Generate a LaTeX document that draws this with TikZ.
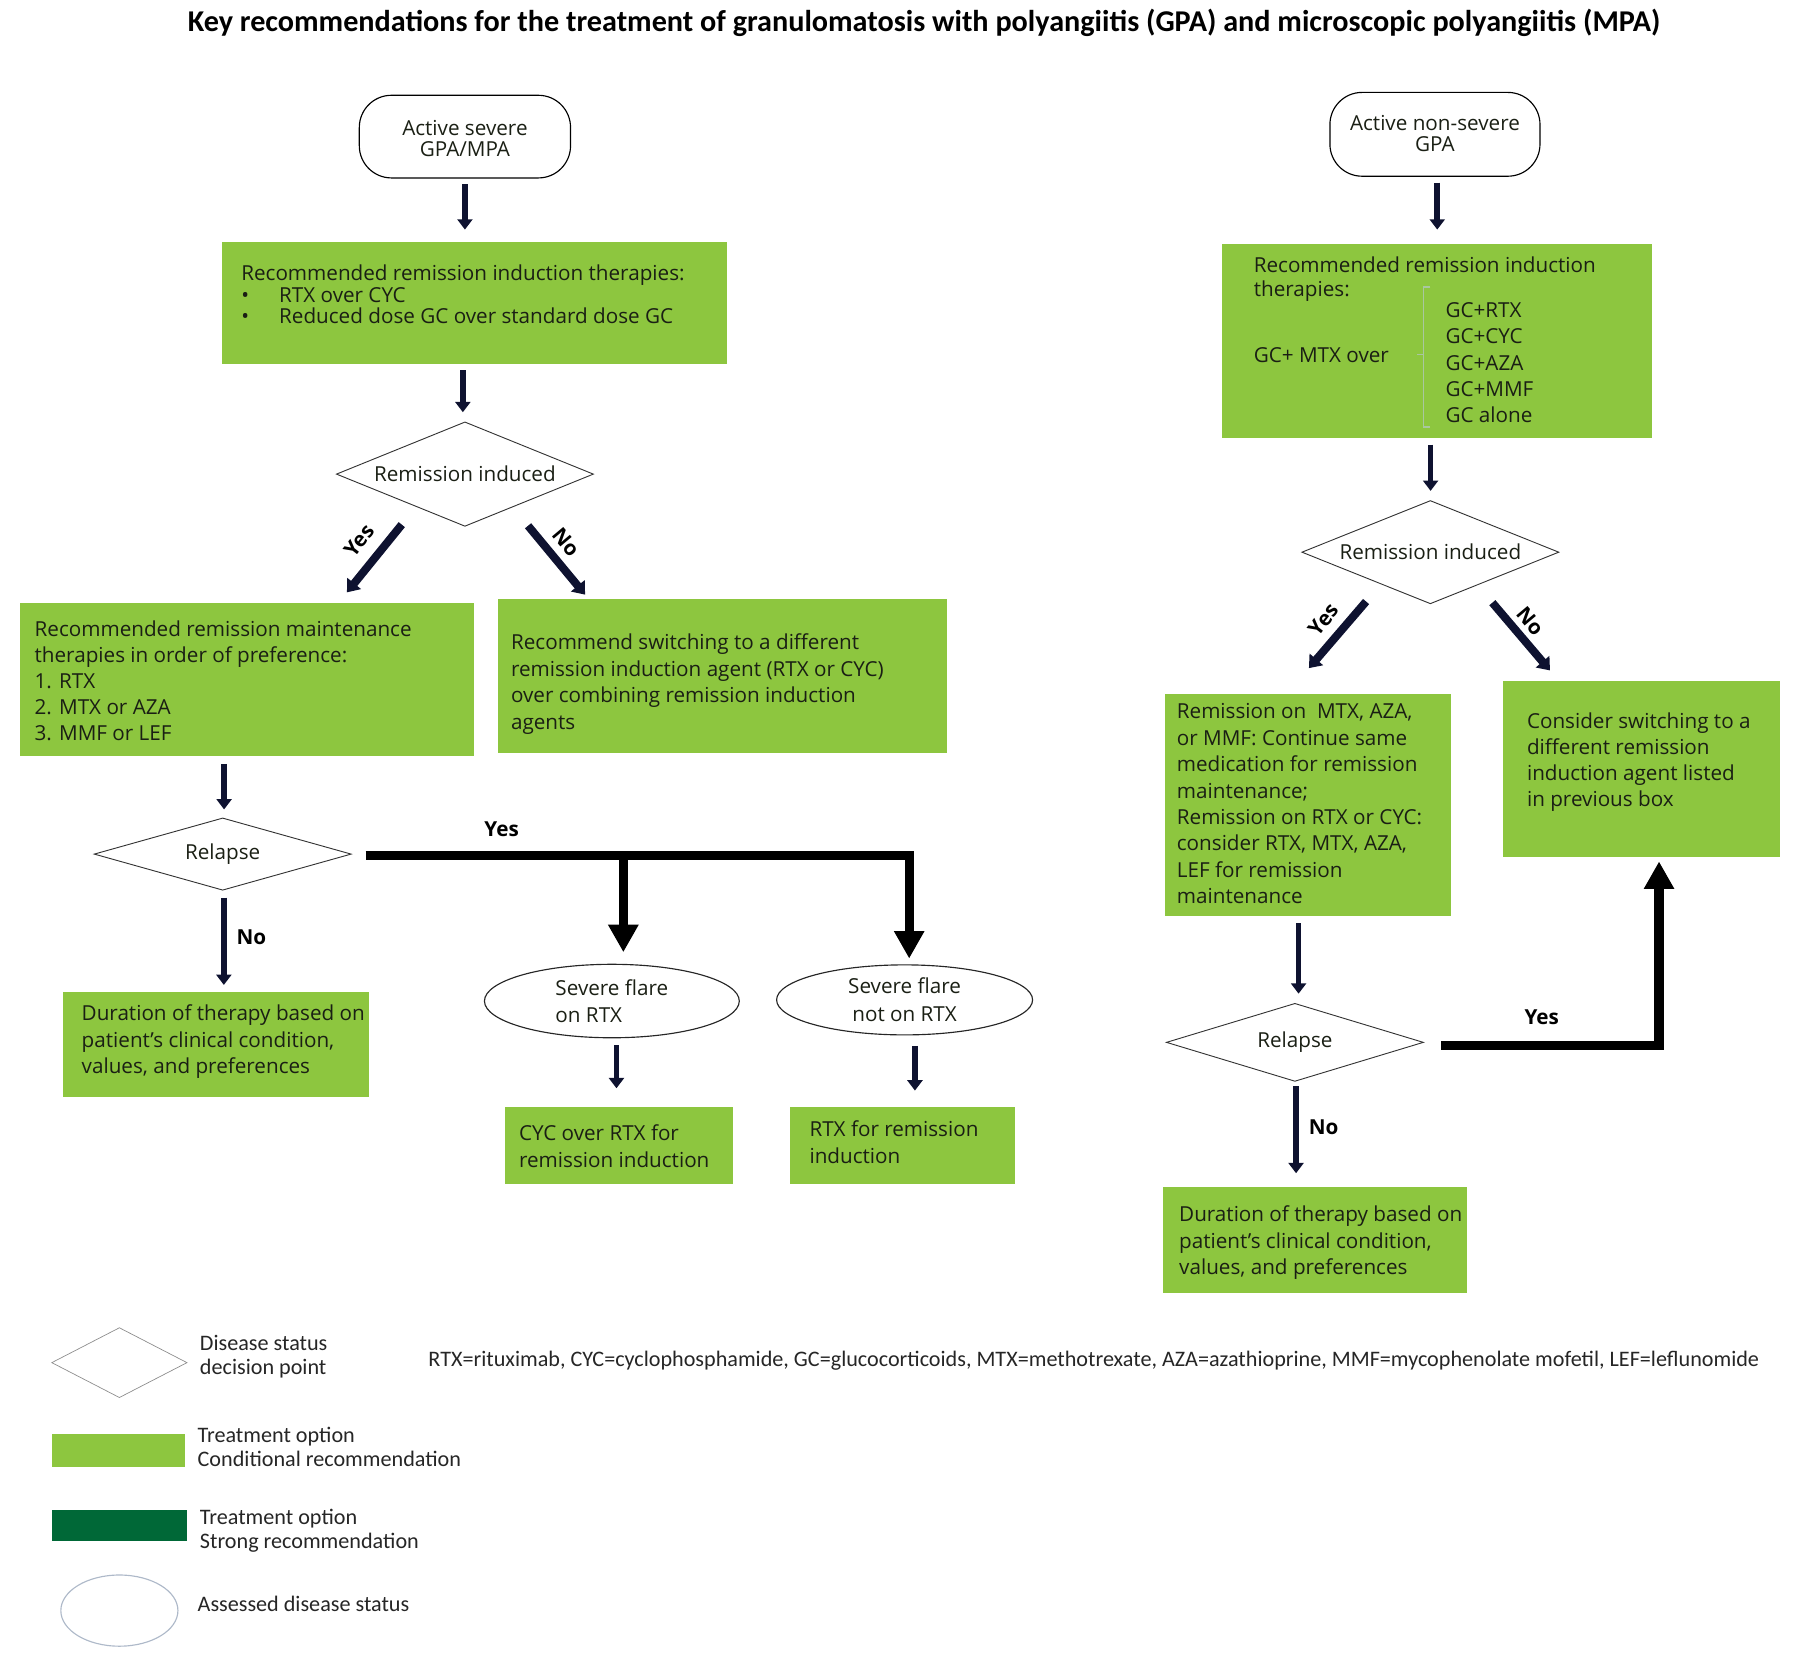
\documentclass[tikz,border=0pt]{standalone}
\usepackage{fontspec}
\setmainfont{Open Sans}
\newfontfamily\cfont{Carlito}
\usetikzlibrary{shapes.geometric,arrows.meta,calc}
\definecolor{gcol}{HTML}{8DC63F}
\definecolor{dgcol}{HTML}{006837}
\definecolor{arrc}{HTML}{0E1230}
\definecolor{txtc}{HTML}{1A1F14}
\definecolor{brc}{HTML}{A9C7A0}
\definecolor{lgell}{HTML}{AEB9C9}
\newcommand\gtext[6]{\begin{minipage}[c][#2pt][t]{#1pt}\fontsize{18}{#5}\selectfont\raggedright\leftskip=#3pt\relax\vspace*{\dimexpr #4pt-\ht\strutbox\relax}\strut #6\end{minipage}}
\newcommand\ttext[2]{\raisebox{-#1pt}[\height][\depth]{\renewcommand\arraystretch{0.83}\begin{tabular}{@{}c@{}}#2\end{tabular}}}
\begin{document}
\begin{tikzpicture}[x=1pt,y=-1pt,
 every node/.style={text=txtc},
 gbox/.style={fill=gcol, draw=none, inner sep=0pt, anchor=north west},
 term/.style={draw=black, line width=1pt, rounded corners=28pt, minimum width=184pt, minimum height=72pt, font=\fontsize{18}{22}\selectfont, inner sep=0pt},
 dia/.style={diamond, draw=black!80, line width=0.8pt, aspect=2.4, inner sep=0pt, minimum width=224pt, font=\fontsize{18}{20}\selectfont},
 ell/.style={ellipse, draw=black!85, line width=1pt, inner sep=0pt, font=\fontsize{18}{24}\selectfont},
 arr/.style={draw=arrc, line width=5pt, -{Triangle[width=13pt,length=9pt]}},
 darr/.style={draw=arrc, line width=7pt, -{Triangle[width=15pt,length=10pt]}},
 bigarr/.style={draw=black, line width=8pt, line join=miter, -{Triangle[width=25pt,length=24pt]}},
 lbl/.style={font=\fontsize{18}{20}\selectfont\bfseries, text=black},
 ltext/.style={font=\cfont\fontsize{19.3}{21}\selectfont, align=left, inner sep=0pt, anchor=west, text=black!85}
]
\useasboundingbox (0,0) rectangle (1568,1440);
\node[font=\cfont\bfseries\fontsize{26.3}{30}\selectfont, text=black] (title) at (805,20) {Key recommendations for the treatment of granulomatosis with polyangiitis (GPA) and microscopic polyangiitis (MPA)};
% left column
\node[term] (t1) at (405,119) {\ttext{4}{Active severe\\GPA/MPA}};
\node[gbox] (b1) at (193,211) {\gtext{440}{106}{17}{32}{18.5}{Recommended remission induction therapies:\\\makebox[33pt][l]{\textbullet}RTX over CYC\\\makebox[33pt][l]{\textbullet}Reduced dose GC over standard dose GC}};
\node[dia, minimum height=91pt] (d1) at (405,413) {Remission induced};
\node[gbox] (m1) at (17,525) {\gtext{396}{133}{13}{29}{22.8}{Recommended remission maintenance\\therapies in order of preference:\\1. RTX\\2. MTX or AZA\\3. MMF or LEF}};
\node[gbox] (s1) at (434,522) {\gtext{391}{134}{11}{44}{23}{Recommend switching to a different\\remission induction agent (RTX or CYC)\\over combining remission induction\\agents}};
\node[dia, minimum height=63pt] (r1) at (194,744) {Relapse};
\node[gbox] (du1) at (55,864) {\gtext{266}{91}{16}{25}{23}{Duration of therapy based on\\patient’s clinical condition,\\values, and preferences}};
\node[ell, minimum width=222pt, minimum height=64pt, align=left] (e1) at (533,872) {Severe flare\\on RTX};
\node[ell, minimum width=223pt, minimum height=61pt, align=center] (e2) at (788,871) {Severe flare\\not on RTX};
\node[gbox] (c1) at (440,964) {\gtext{198}{67}{12}{29}{24}{CYC over RTX for\\remission induction}};
\node[gbox] (x1) at (688,964) {\gtext{196}{67}{17}{26}{23}{RTX for remission\\induction}};
% right column
\node[term, minimum width=183pt, minimum height=73pt] (t2) at (1250,117) {\ttext{2}{Active non-severe\\GPA}};
\node[gbox] (b2) at (1064,212) {\gtext{375}{169}{28}{25}{19}{Recommended remission induction\\therapies:\par
\makebox[167pt][l]{\raisebox{4pt}{GC+ MTX over}}\parbox[c]{100pt}{\fontsize{18}{23}\selectfont GC+RTX\\GC+CYC\\GC+AZA\\GC+MMF\\GC alone}}};
\draw[brc, line width=1pt] (1246,250) -- (1240,250) -- (1240,372) -- (1246,372);
\draw[brc, line width=1pt] (1240,309) -- (1234,309);
\node[dia, minimum height=90pt] (d2) at (1246,481) {Remission induced};
\node[gbox] (m2) at (1015,604) {\gtext{249}{194}{10}{22}{23}{Remission on\ \ MTX, AZA,\\or MMF: Continue same\\medication for remission\\maintenance;\\Remission on RTX or CYC:\\consider RTX, MTX, AZA,\\LEF for remission\\maintenance}};
\node[gbox] (s2) at (1309,593) {\gtext{241}{153}{21}{41}{22.7}{Consider switching to a\\different remission\\induction agent listed\\in previous box}};
\node[dia, minimum height=68pt] (r2) at (1128,908) {Relapse};
\node[gbox] (du2) at (1013,1034) {\gtext{265}{92}{14}{30}{23}{Duration of therapy based on\\patient’s clinical condition,\\values, and preferences}};
% connectors left
\draw[arr] ($(t1.south)+(0,5)$) -- ($(t1.south |- b1.north)+(0,-11)$);
\draw[arr] ($(b1.south)+(-10,5)$) -- ($(b1.south |- d1.north)+(-10,-8)$);
\draw[darr] ($(d1.center)+(-55,44)$) -- ($(m1.north)+(87,-9)$);
\draw[darr] ($(d1.center)+(55,45)$) -- ($(s1.north)+(-120,-4)$);
\draw[arr] ($(m1.south)+(-20,7)$) -- ($(m1.south |- r1.north)+(-20,-7)$);
\draw[bigarr] ($(r1.east)+(12,1)$) -| ($(e2.north)+(4,-5)$);
\draw[bigarr] ($(e1.north)+(10,-94)$) -- ($(e1.north)+(10,-10)$);
\draw[arr] ($(r1.south)+(1,6)$) -- ($(r1.south |- du1.north)+(1,-6)$);
\draw[arr] ($(e1.south)+(4,6)$) -- ($(e1.south |- c1.north)+(4,-16)$);
\draw[arr] ($(e2.south)+(9,9)$) -- ($(e2.south |- x1.north)+(9,-14)$);
% connectors right
\draw[arr] ($(t2.south)+(2,5)$) -- ($(t2.south |- b2.north)+(2,-12)$);
\draw[arr] ($(b2.south)+(-5.5,6)$) -- ($(b2.south |- d2.north)+(-5.5,-8)$);
\draw[darr] ($(d2.center)+(-56,43)$) -- ($(m2.north)+(0.5,-22)$);
\draw[darr] ($(d2.center)+(54,44)$) -- ($(s2.north)+(-79.5,-9)$);
\draw[arr] ($(m2.south)+(-8.5,6)$) -- ($(m2.south |- r2.north)+(-8.5,-8)$);
\draw[bigarr] ($(r2.east)+(15,3)$) -| ($(s2.south)+(15.5,4)$);
\draw[arr] ($(r2.south)+(1,4)$) -- ($(r2.south |- du2.north)+(1,-12)$);
% labels
\node[lbl, rotate=52] (ly1) at (313,471) {Yes};
\node[lbl, rotate=-50] (ln1) at (493,472) {No};
\node[lbl] (ly2) at (437,722) {Yes};
\node[lbl] (ln2) at (219,816) {No};
\node[lbl, rotate=52] (ly3) at (1153,540) {Yes};
\node[lbl, rotate=-50] (ln3) at (1333,541) {No};
\node[lbl] (ly4) at (1343,886) {Yes};
\node[lbl] (ln4) at (1153,982) {No};
% legend
\node[diamond, draw=black!45, line width=0.6pt, minimum width=118pt, minimum height=61pt, inner sep=0pt, aspect=1.9] (lg1) at (104,1187) {};
\node[ltext] (lt1) at (174,1181.5) {Disease status\\decision point};
\node[ltext] (ab) at (373,1185) {RTX=rituximab, CYC=cyclophosphamide, GC=glucocorticoids, MTX=methotrexate, AZA=azathioprine, MMF=mycophenolate mofetil, LEF=leflunomide};
\node[fill=gcol, minimum width=116pt, minimum height=29pt, inner sep=0pt, anchor=north west] (lg2) at (45,1249) {};
\node[ltext] (lt2) at (172,1260.5) {Treatment option\\Conditional recommendation};
\node[fill=dgcol, minimum width=118pt, minimum height=27pt, inner sep=0pt, anchor=north west] (lg3) at (45,1315) {};
\node[ltext] (lt3) at (174,1333.5) {Treatment option\\Strong recommendation};
\node[ellipse, draw=lgell, line width=1pt, minimum width=102pt, minimum height=62pt, inner sep=0pt] (lg4) at (104,1403) {};
\node[ltext] (lt4) at (172,1397) {Assessed disease status};
\end{tikzpicture}
\end{document}
